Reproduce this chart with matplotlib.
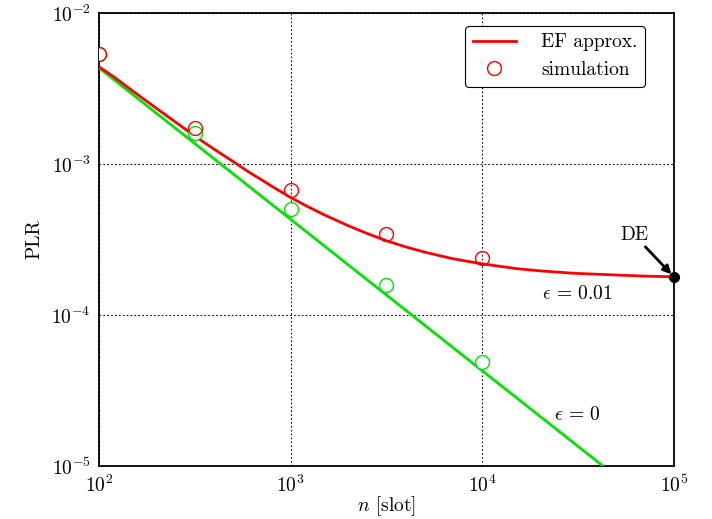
import numpy as np
import matplotlib
matplotlib.use('Agg')
import matplotlib.pyplot as plt

plt.rcParams['font.family'] = 'serif'
plt.rcParams['font.serif'] = ['cmr10']
plt.rcParams['mathtext.fontset'] = 'cm'
plt.rcParams['axes.formatter.use_mathtext'] = True

# EF approximation, eps = 0.01
n_ef = [100, 120, 150, 200, 250, 316, 400, 500, 600, 700, 800, 1000, 1200,
        1500, 2000, 2500, 3162, 4000, 5000, 6000, 7000, 8500, 10000, 15000,
        20000, 30000, 50000, 70000, 100000]
plr_ef = [4.4e-3, 3.76e-3, 3.04e-3, 2.33e-3, 1.9e-3, 1.53e-3, 1.25e-3,
          1.04e-3, 8.9e-4, 7.9e-4, 7.1e-4, 6.0e-4, 5.3e-4, 4.6e-4, 3.9e-4,
          3.47e-4, 3.1e-4, 2.82e-4, 2.61e-4, 2.47e-4, 2.36e-4, 2.26e-4,
          2.18e-4, 2.03e-4, 1.96e-4, 1.89e-4, 1.84e-4, 1.81e-4, 1.79e-4]

# EF approximation, eps = 0
n_ef0 = [100, 1000, 10000, 100000]
plr_ef0 = [4.33e-3, 4.3e-4, 4.27e-5, 4.25e-6]

# simulation points
n_sim = [100, 316, 1000, 3162, 10000]
sim_eps = [5.35e-3, 1.73e-3, 6.7e-4, 3.43e-4, 2.38e-4]
sim_eps0 = [5.35e-3, 1.60e-3, 5.0e-4, 1.58e-4, 4.9e-5]

# density evolution point
n_de = 1e5
plr_de = 1.79e-4

fig = plt.figure(figsize=(7.12, 5.19), dpi=100)
ax = fig.add_axes([99/712, 1 - 466/519, 575/712, 453/519])

ax.plot(n_ef0, plr_ef0, color='#00e600', lw=2, zorder=3)
ax.plot(n_ef, plr_ef, color='#ff0000', lw=2, zorder=4, label='EF approx.')
ax.plot(n_sim, sim_eps0, 'o', mfc='white', mec='#00e600', ms=10, mew=1, zorder=5)
ax.plot(n_sim, sim_eps, 'o', mfc='none', mec='#ff0000', ms=10, mew=1, zorder=6,
        label='simulation')
ax.plot([n_de], [plr_de], 'o', color='black', ms=7, zorder=7, clip_on=False)

ax.set_xscale('log')
ax.set_yscale('log')
ax.set_xlim(1e2, 1e5)
ax.set_ylim(1e-5, 1e-2)
ax.set_xticks([1e2, 1e3, 1e4, 1e5])
ax.set_yticks([1e-5, 1e-4, 1e-3, 1e-2])
ax.minorticks_off()
ax.tick_params(length=0, labelsize=14, pad=6)
ax.grid(True, color='black', ls=(0, (1.5, 2)), lw=0.8)
for s in ax.spines.values():
    s.set_linewidth(1.3)

ax.set_xlabel(r'$n$ [slot]', fontsize=14, labelpad=-1)
ax.set_ylabel('PLR', fontsize=14, labelpad=6)

ax.annotate('DE', xy=(n_de * 0.97, plr_de * 1.04), xytext=(0.62e5, 2.95e-4),
            fontsize=14, ha='center', va='bottom',
            arrowprops=dict(arrowstyle='-|>', color='black', lw=2,
                            mutation_scale=12, shrinkA=0, shrinkB=0))
ax.text(0.312e5, 1.38e-4, r'$\epsilon\,=\,0.01$', fontsize=14, ha='center', va='center')
ax.text(0.312e5, 2.18e-5, r'$\epsilon\,=\,0$', fontsize=14, ha='center', va='center')

leg = ax.legend(loc='upper right', fontsize=14, frameon=True, fancybox=True,
                edgecolor='black', framealpha=1, handlelength=2.2,
                handletextpad=1.3, borderpad=0.4, borderaxespad=0.3,
                bbox_to_anchor=(0.96, 0.985))
leg.get_frame().set_linewidth(0.8)

fig.savefig('out.png', dpi=100)
